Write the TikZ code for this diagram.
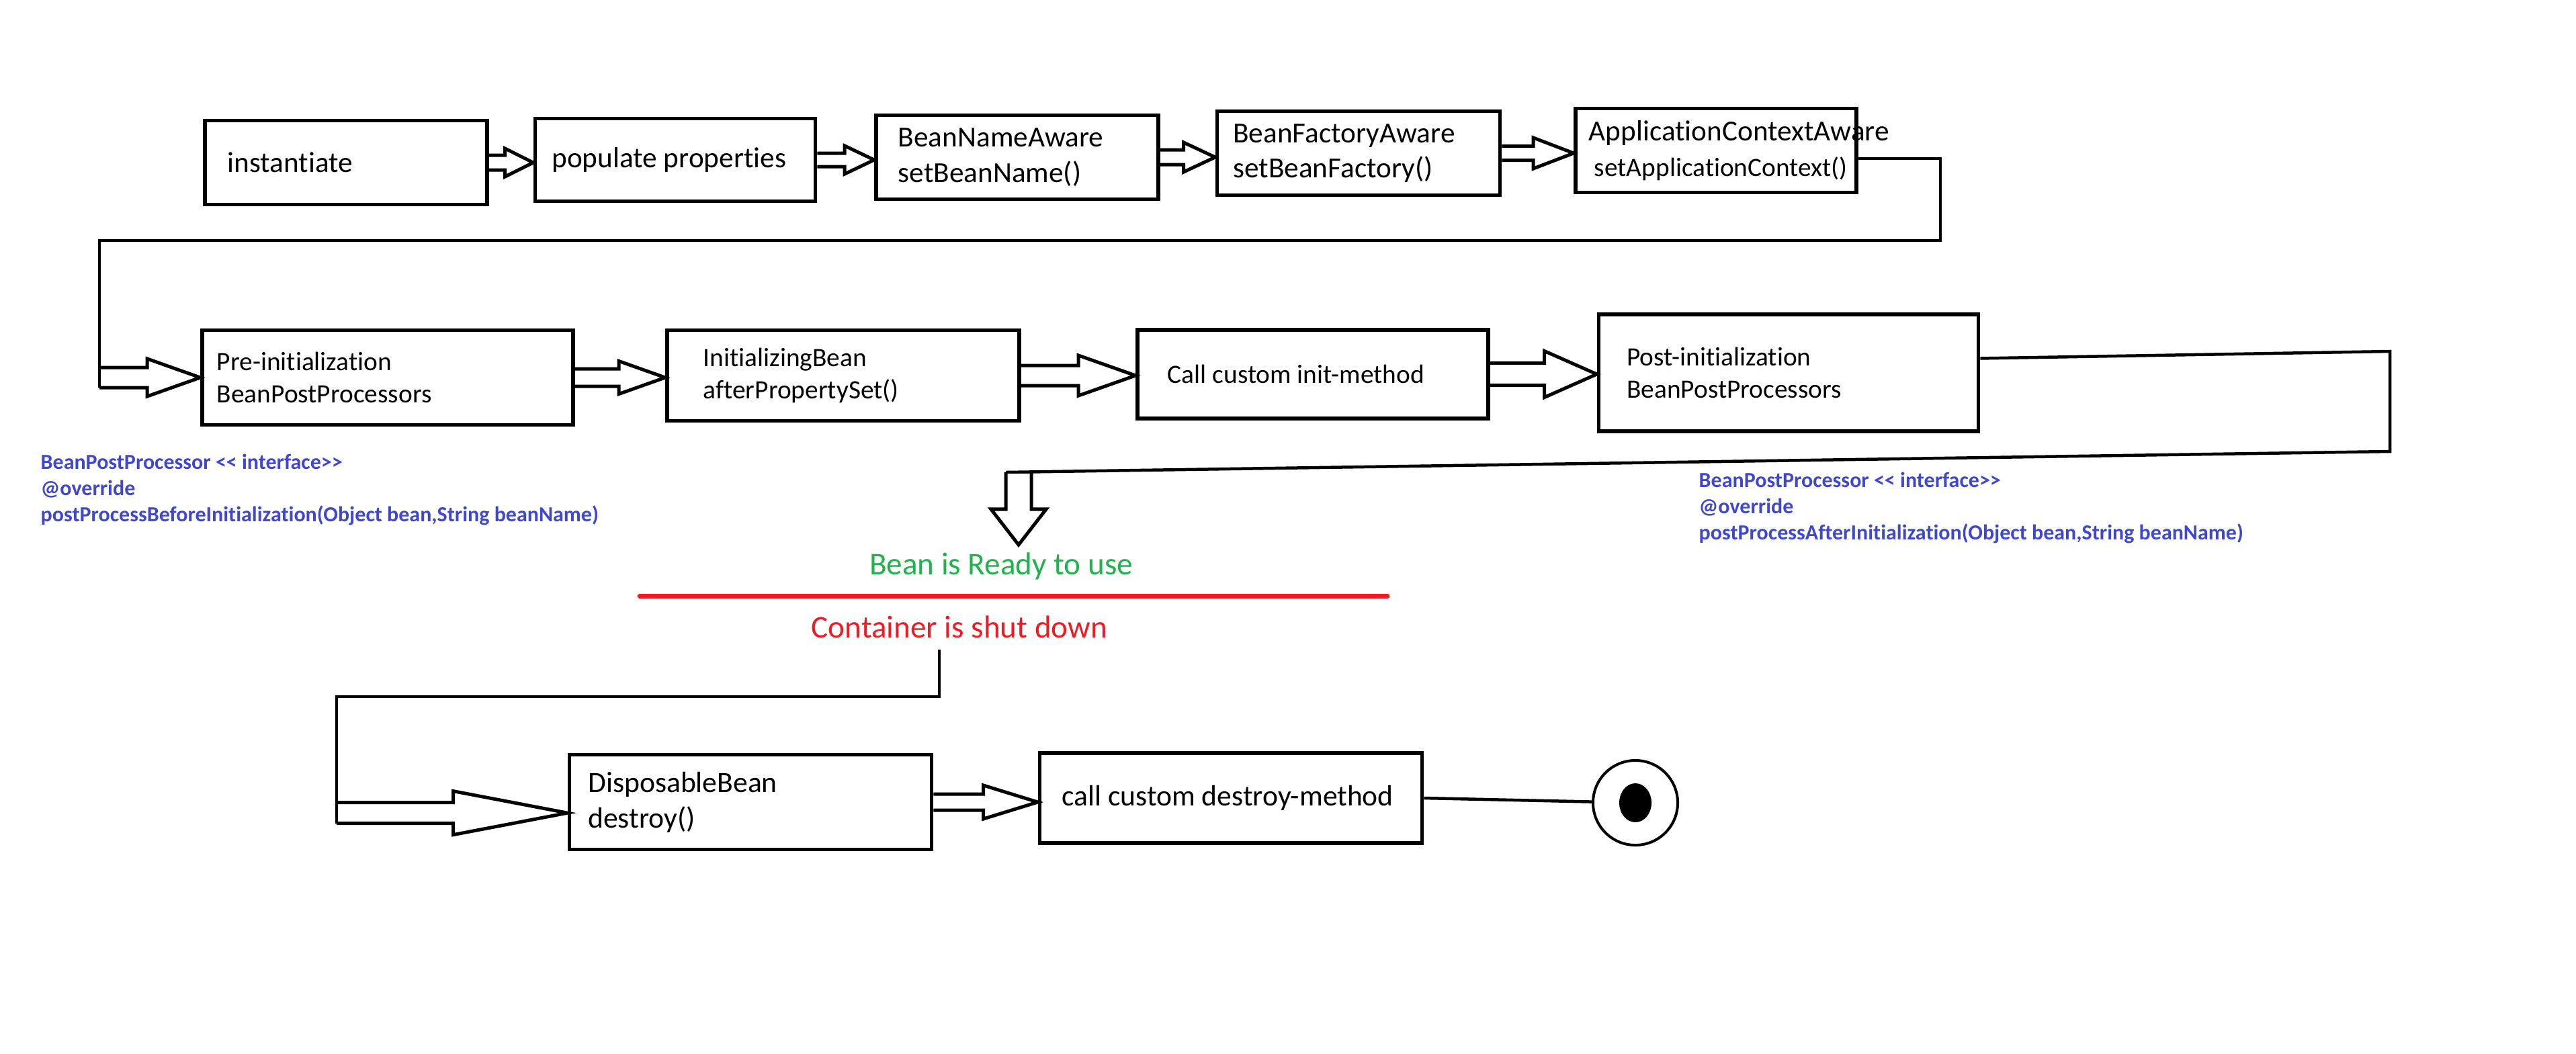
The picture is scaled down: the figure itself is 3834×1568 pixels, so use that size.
\documentclass[tikz,border=0pt]{standalone}
\usepackage{fontspec}
\setmainfont{Carlito}[Ligatures=NoCommon]
\usetikzlibrary{calc}

\definecolor{paintblue}{RGB}{63,72,204}
\definecolor{paintgreen}{RGB}{34,177,76}
\definecolor{paintred}{RGB}{237,28,36}

\newcommand{\fatarrow}[5]{%
    \coordinate (fa-h) at ($(#2)!#5!(#1)$);
    \draw[fat]
        ($(#1)!#3!90:(#2)$) -- ($(fa-h)!#3!90:(#2)$) -- ($(fa-h)!#4!90:(#2)$)
        -- (#2) -- ($(fa-h)!#4!-90:(#2)$) -- ($(fa-h)!#3!-90:(#2)$)
        -- ($(#1)!#3!-90:(#2)$);
}

\begin{document}
\begin{tikzpicture}[
    x=0.01cm, y=-0.01cm,
    stage/.style={draw, line width=0.055cm, align=flush left, inner ysep=0pt,
        execute at begin node={\hyphenpenalty=10000\exhyphenpenalty=10000}},
    rowa/.style={font=\fontsize{12.3}{15}\selectfont},
    rowb/.style={font=\fontsize{11.2}{13.9}\selectfont},
    rowc/.style={font=\fontsize{12.4}{15}\selectfont},
    fat/.style={line width=0.05cm, line join=miter},
    link/.style={line width=0.045cm},
    note/.style={text=paintblue, font=\fontsize{9.1}{11.1}\selectfont\bfseries,
        align=left, inner sep=0pt, anchor=west},
]
    \useasboundingbox (0,0) rectangle (3834,1568);

    \node[stage, rowa, minimum width=4.2cm, minimum height=1.25cm, inner xsep=0.34cm, text width=3.52cm]
        (inst) at (515,242) {instantiate};
    \node[stage, rowa, minimum width=4.17cm, minimum height=1.23cm, inner xsep=0.25cm, text width=3.67cm]
        (pop) at (1005,238) {populate properties};
    \node[stage, rowa, minimum width=4.2cm, minimum height=1.25cm, inner xsep=0.33cm, text width=3.54cm]
        (bn) at (1514,234) {BeanNameAware\\setBeanName()};
    \node[stage, rowa, minimum width=4.21cm, minimum height=1.25cm, inner xsep=0.24cm, text width=3.73cm]
        (bf) at (2022,228) {BeanFactoryAware\\setBeanFactory()};
    \node[stage, rowa, minimum width=4.18cm, minimum height=1.25cm, inner xsep=0.2cm, text width=3.78cm]
        (ac) at (2554,224) {\mbox{ApplicationContextAware}\\\hspace*{0.08cm}\mbox{\fontsize{11.2}{13}\selectfont setApplicationContext()}};

    \node[stage, rowb, minimum width=5.52cm, minimum height=1.41cm, inner xsep=0.22cm, text width=5.08cm]
        (pre) at (577,562) {Pre-initialization\\BeanPostProcessors};
    \node[stage, rowb, minimum width=5.24cm, minimum height=1.35cm, inner xsep=0.54cm, text width=4.16cm]
        (init) at (1255,559) {InitializingBean\\afterPropertySet()};
    \node[stage, rowb, minimum width=5.22cm, minimum height=1.32cm, inner xsep=0.45cm, text width=4.32cm]
        (call) at (1954,557) {Call custom init-method};
    \node[stage, rowb, minimum width=5.65cm, minimum height=1.74cm, inner xsep=0.42cm, text width=4.81cm]
        (post) at (2662,555) {Post-initialization\\BeanPostProcessors};

    \node[stage, rowc, minimum width=5.39cm, minimum height=1.41cm, inner xsep=0.28cm, text width=4.83cm]
        (disp) at (1117,1194) {DisposableBean\\destroy()};
    \node[stage, rowc, minimum width=5.69cm, minimum height=1.34cm, inner xsep=0.33cm, text width=5.03cm]
        (calld) at (1832,1188) {\mbox{call custom destroy-method}};
    \node[draw, circle, line width=0.04cm, minimum size=1.26cm, inner sep=0pt]
        (finish) at (2434,1195) {};
    \fill (finish.center) ellipse [x radius=0.24cm, y radius=0.29cm];

    \fatarrow{inst.east}{pop.west |- inst.east}{0.11cm}{0.21cm}{0.42cm}
    \fatarrow{pop.east}{bn.west |- pop.east}{0.1cm}{0.21cm}{0.44cm}
    \fatarrow{bn.east}{bf.west |- bn.east}{0.11cm}{0.22cm}{0.47cm}
    \fatarrow{bf.east}{ac.west |- bf.east}{0.105cm}{0.23cm}{0.6cm}

    \coordinate (ta) at (2888,358);
    \coordinate (tb) at (148,358);
    \coordinate (tc) at (tb |- pre.west);
    \draw[link] ($(ac.north east)!0.59!(ac.south east)$) -| (ta) -- (tb) -- ($(tc)+(0,15)$);
    \fatarrow{tc}{pre.west}{0.15cm}{0.28cm}{0.79cm}
    \fatarrow{pre.east}{init.west |- pre.east}{0.13cm}{0.245cm}{0.69cm}
    \fatarrow{init.east}{call.west |- init.east}{0.15cm}{0.3cm}{0.85cm}
    \fatarrow{call.east}{post.west |- call.east}{0.165cm}{0.345cm}{0.78cm}

    \node[note] (beforenote) at (60,729)
        {BeanPostProcessor \mbox{<}\mbox{<} interface\mbox{>}\mbox{>}\\@override\\postProcessBeforeInitialization(Object bean,String beanName)};
    \node[note] (afternote) at (2528,756)
        {BeanPostProcessor \mbox{<}\mbox{<} interface\mbox{>}\mbox{>}\\@override\\postProcessAfterInitialization(Object bean,String beanName)};

    \coordinate (ua) at (3557,523);
    \coordinate (ub) at (3557,672);
    \coordinate (uc) at (1497,703);
    \coordinate (ud) at (1516,703);
    \coordinate (ue) at (1516,811);
    \draw[link] ($(post.north east)!0.38!(post.south east)$) -- (ua) -- (ub) -- (uc);
    \fatarrow{ud}{ue}{0.19cm}{0.41cm}{0.53cm}

    \node[text=paintgreen, font=\fontsize{13.4}{16}\selectfont] (ready) at (1490,843) {Bean is Ready to use};
    \draw[paintred, line width=0.07cm, line cap=round] (952,887) -- (2065,887);
    \node[text=paintred, font=\fontsize{13.4}{16}\selectfont] (shut) at (1428,933) {Container is shut down};

    \coordinate (va) at (1398,967);
    \coordinate (vb) at (501,1037);
    \coordinate (vd) at ($(disp.north west)!0.61!(disp.south west)$);
    \coordinate (vc) at (vb |- vd);
    \draw[link] (va) |- (vb) -- ($(vc)+(0,15.5)$);
    \fatarrow{vc}{vd}{0.155cm}{0.325cm}{1.7cm}
    \fatarrow{disp.east}{calld.west |- disp.east}{0.12cm}{0.25cm}{0.81cm}

    \draw[link] (calld.east) -- (finish);
\end{tikzpicture}
\end{document}
